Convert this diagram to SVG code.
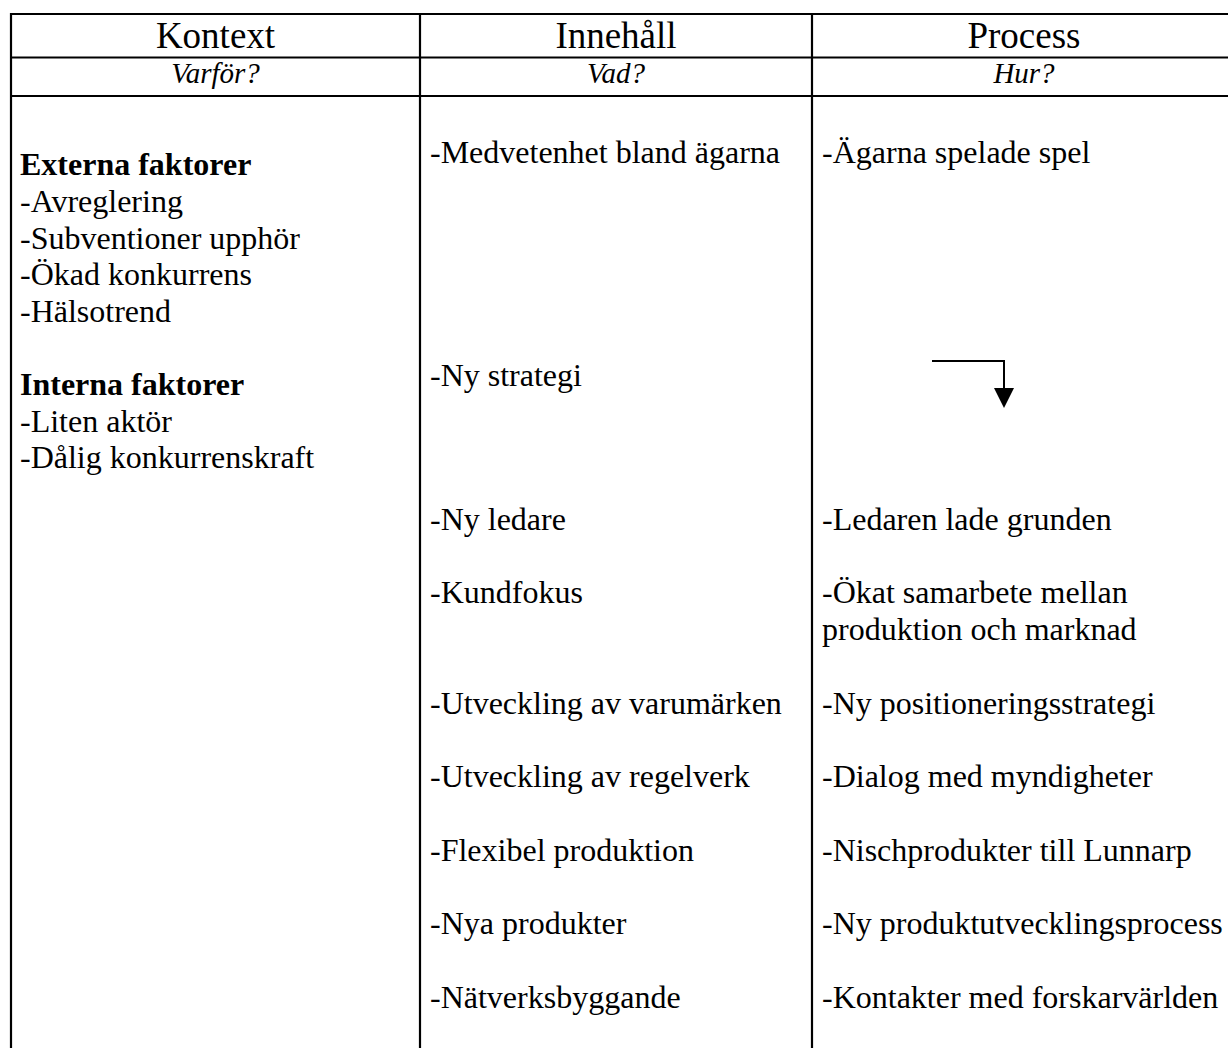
<svg xmlns="http://www.w3.org/2000/svg" width="1228" height="1048" viewBox="0 0 1228 1048">
  <style>
    .rule { stroke: #000; stroke-width: 2.2; fill: none; }
    .head { font-family: "Liberation Serif", "Times New Roman", serif; font-size: 37px; text-anchor: middle; fill: #000; }
    .sub { font-family: "Liberation Serif", "Times New Roman", serif; font-size: 29px; font-style: italic; text-anchor: middle; fill: #000; }
    .body { font-family: "Liberation Serif", "Times New Roman", serif; font-size: 32px; fill: #000; }
    .bold { font-weight: bold; }
    .conn { stroke: #000; stroke-width: 2; fill: none; }
  </style>
  <defs>
    <marker id="arrowhead" markerUnits="userSpaceOnUse" markerWidth="20" markerHeight="20" refX="0" refY="0" orient="auto-start-reverse" viewBox="0 -10 20 20">
      <path d="M0,-10 L20,0 L0,10 Z" fill="#000"/>
    </marker>
  </defs>
  <rect width="1228" height="1048" fill="#fff"/>

  <!-- table rules -->
  <g id="grid" class="rule">
    <line x1="10" y1="14" x2="1228" y2="14"/>
    <line x1="10" y1="57.5" x2="1228" y2="57.5"/>
    <line x1="10" y1="96" x2="1228" y2="96"/>
    <line x1="11" y1="13" x2="11" y2="1048"/>
    <line x1="420" y1="13" x2="420" y2="1048"/>
    <line x1="812" y1="13" x2="812" y2="1048"/>
  </g>

  <!-- column headings -->
  <g id="head-kontext">
    <text class="head" x="215.5" y="48">Kontext</text>
    <text class="sub" x="215.5" y="83">Varför?</text>
  </g>
  <g id="head-innehall">
    <text class="head" x="616" y="48">Innehåll</text>
    <text class="sub" x="616" y="83">Vad?</text>
  </g>
  <g id="head-process">
    <text class="head" x="1024" y="48">Process</text>
    <text class="sub" x="1024" y="83">Hur?</text>
  </g>

  <!-- context column -->
  <g id="kontext-externa" class="body">
    <text class="bold" x="20" y="175">Externa faktorer</text>
    <text x="20" y="212">-Avreglering</text>
    <text x="20" y="248.5">-Subventioner upphör</text>
    <text x="20" y="285">-Ökad konkurrens</text>
    <text x="20" y="322">-Hälsotrend</text>
  </g>
  <g id="kontext-interna" class="body">
    <text class="bold" x="20" y="395">Interna faktorer</text>
    <text x="20" y="432">-Liten aktör</text>
    <text x="20" y="468">-Dålig konkurrenskraft</text>
  </g>

  <!-- content column -->
  <g id="innehall" class="body">
    <text x="430" y="163">-Medvetenhet bland ägarna</text>
    <text x="430" y="386">-Ny strategi</text>
    <text x="430" y="529.5">-Ny ledare</text>
    <text x="430" y="603">-Kundfokus</text>
    <text x="430" y="713.5">-Utveckling av varumärken</text>
    <text x="430" y="787">-Utveckling av regelverk</text>
    <text x="430" y="860.5">-Flexibel produktion</text>
    <text x="430" y="934">-Nya produkter</text>
    <text x="430" y="1008">-Nätverksbyggande</text>
  </g>

  <!-- process column -->
  <g id="process" class="body">
    <text x="822" y="163">-Ägarna spelade spel</text>
    <text x="822" y="529.5">-Ledaren lade grunden</text>
    <text x="822" y="603">-Ökat samarbete mellan</text>
    <text x="822" y="640">produktion och marknad</text>
    <text x="822" y="713.5">-Ny positioneringsstrategi</text>
    <text x="822" y="787">-Dialog med myndigheter</text>
    <text x="822" y="860.5">-Nischprodukter till Lunnarp</text>
    <text x="822" y="934">-Ny produktutvecklingsprocess</text>
    <text x="822" y="1008">-Kontakter med forskarvärlden</text>
  </g>

  <!-- connectors -->
  <g id="connectors">
    <path class="conn" d="M932,361 H1004 V388" marker-end="url(#arrowhead)"/>
  </g>
</svg>
